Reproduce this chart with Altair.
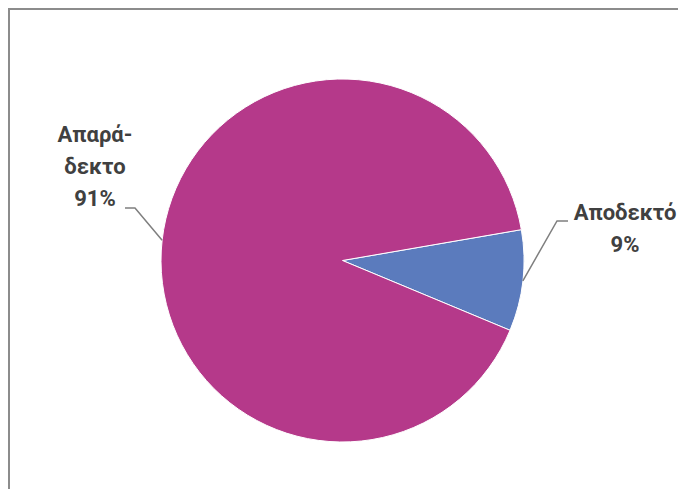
import math
import altair as alt
import pandas as pd

categories = ["Αποδεκτό", "Απαράδεκτο"]
values = [9, 91]
label_texts = ["Αποδεκτό\n9%", "Απαρά-\nδεκτο\n91%"]
colors = ["#5B7BBD", "#B5398A"]

W, H = 670, 481
CX, CY, R = 334.5, 252.5, 181.5
START = 1.40  # radians, clockwise from 12 o'clock

df = pd.DataFrame({"cat": categories, "val": values, "order": [0, 1], "label": label_texts})

# mid-angles of slices, for leader-line anchors
total = sum(values)
mids = []
acc = START
for v in values:
    span = 2 * math.pi * v / total
    mids.append(acc + span / 2)
    acc += span

label_pos = [(617, 205), (87, 127)]
elbows = [((549, 213), (560, 213)), ((127, 200), (117, 200))]

line_rows = []
for i, m in enumerate(mids):
    ax = CX + R * math.sin(m)
    ay = CY - R * math.cos(m)
    (ex, ey), (tx, ty) = elbows[i]
    for k, (px, py) in enumerate([(ax, ay), (ex, ey), (tx, ty)]):
        line_rows.append({"cat": categories[i], "k": k, "px": px, "py": py})
lines_df = pd.DataFrame(line_rows)

lab_df = pd.DataFrame({"label": label_texts,
                       "px": [p[0] for p in label_pos],
                       "py": [p[1] for p in label_pos]})

pie = alt.Chart(df).mark_arc(radius=R, stroke="white", strokeWidth=1).encode(
    theta=alt.Theta("val:Q", stack=True,
                    scale=alt.Scale(range=[START, START + 2 * math.pi])),
    color=alt.Color("cat:N", scale=alt.Scale(domain=categories, range=colors), legend=None),
    order=alt.Order("order:Q"),
    x=alt.value(CX),
    y=alt.value(CY),
)

leaders = alt.Chart(lines_df).mark_line(color="#7f7f7f", strokeWidth=1.5).encode(
    x=alt.X("px:Q", scale=None, axis=None),
    y=alt.Y("py:Q", scale=None, axis=None),
    detail="cat:N",
    order="k:Q",
)

labels = alt.Chart(lab_df).mark_text(
    font="Roboto", fontSize=22, fontWeight="bold", color="#404040",
    lineBreak="\n", lineHeight=32, align="center", baseline="middle",
).encode(
    x=alt.X("px:Q", scale=None, axis=None),
    y=alt.Y("py:Q", scale=None, axis=None),
    text="label:N",
)

border_top = alt.Chart(df).mark_rule(color="#8c8c8c", strokeWidth=2).encode(
    x=alt.value(0), x2=alt.value(W), y=alt.value(1)
)
border_left = alt.Chart(df).mark_rule(color="#8c8c8c", strokeWidth=2).encode(
    x=alt.value(1), y=alt.value(0), y2=alt.value(H)
)

chart = alt.layer(pie, leaders, labels, border_top, border_left).properties(
    width=W, height=H, padding=0, autosize=alt.AutoSizeParams(type="none"),
).configure_view(stroke=None)

chart.save("out.html", embed_options={"renderer": "svg", "actions": False})
